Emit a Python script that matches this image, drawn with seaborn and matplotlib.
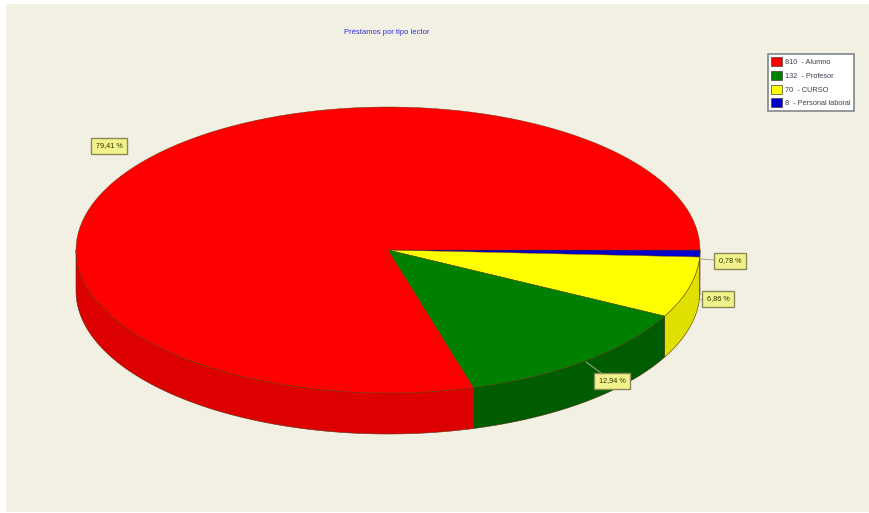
"""Pie chart of loans by reader type, drawn as a tilted disc."""

from __future__ import annotations

import matplotlib.pyplot as plt
from matplotlib.patches import Polygon, Rectangle
import numpy as np
import seaborn as sns

TITLE = "Préstamos por tipo lector"
READER_TYPES = ["Alumno", "Profesor", "CURSO", "Personal laboral"]
LOANS = [810, 132, 70, 8]
PERCENT_LABELS = ["79,41 %", "12,94 %", "6,86 %", "0,78 %"]
TOP_COLORS = ["#ff0000", "#008000", "#ffff00", "#0000c8"]
WALL_COLORS = ["#dc0000", "#005c00", "#e0e000", "#0000a0"]

BACKGROUND = "#f2efe3"
LABEL_FILL = "#f2f28c"
WIDTH, HEIGHT = 870, 513
CENTER_X, CENTER_Y = 388, 250
RADIUS_X, RADIUS_Y = 312, 143
DEPTH = 41
# label box centres, same order as READER_TYPES
LABEL_CENTERS = [(109, 146), (612, 381), (718, 299), (730, 261)]
LEADER_ENDS = [(109, 146), (586, 362), (697, 299), (700, 259)]


def ellipse_points(start: float, stop: float, shift: float = 0) -> np.ndarray:
    """Return pixel points along the rim, angles running clockwise from east."""
    angles = np.radians(np.linspace(start, stop, 120))
    xs = CENTER_X + RADIUS_X * np.cos(angles)
    ys = CENTER_Y + RADIUS_Y * np.sin(angles) + shift
    return np.column_stack([xs, ys])


def draw_pie(ax: plt.Axes) -> None:
    """Draw the wall and the top of every slice, smallest angle first."""
    shares = np.array(LOANS[::-1]) / sum(LOANS)
    stops = np.cumsum(shares) * 360
    starts = stops - shares * 360
    tops = TOP_COLORS[::-1]
    walls = WALL_COLORS[::-1]

    for start, stop, wall in zip(starts, stops, walls):
        low, high = start, min(stop, 180)
        if low >= 180:
            continue
        top_rim = ellipse_points(low, high)
        bottom_rim = ellipse_points(low, high, DEPTH)[::-1]
        ax.add_patch(Polygon(np.vstack([top_rim, bottom_rim]), facecolor=wall,
                             edgecolor="#5a3410", linewidth=0.4, joinstyle="round"))

    for start, stop, top in zip(starts, stops, tops):
        rim = ellipse_points(start, stop)
        points = np.vstack([[CENTER_X, CENTER_Y], rim])
        ax.add_patch(Polygon(points, facecolor=top, edgecolor="#5a3410",
                             linewidth=0.3, joinstyle="round"))


def draw_labels(ax: plt.Axes) -> None:
    """Draw the boxed percent labels and their short leader lines."""
    for text, center, end in zip(PERCENT_LABELS, LABEL_CENTERS, LEADER_ENDS):
        ax.plot([center[0], end[0]], [center[1], end[1]], color="#a0b080",
                linewidth=0.7, zorder=3)
        ax.text(center[0], center[1], text, ha="center", va="center", fontsize=5.2,
                color="#303000", zorder=4,
                bbox={"boxstyle": "square,pad=0.6", "facecolor": LABEL_FILL,
                      "edgecolor": "#8a8a58", "linewidth": 1.0})


def draw_legend(ax: plt.Axes) -> None:
    """Draw the legend box with its counts."""
    handles = [Rectangle((0, 0), 1, 1, facecolor=color, edgecolor="#404040", linewidth=0.5)
               for color in TOP_COLORS]
    labels = [f"{count}  - {name}" for count, name in zip(LOANS, READER_TYPES)]
    legend = ax.legend(handles, labels, loc="upper left",
                       bbox_to_anchor=(768 / WIDTH, 1 - 54 / HEIGHT),
                       bbox_transform=ax.figure.transFigure, fontsize=5.35,
                       frameon=True, fancybox=False, framealpha=1, facecolor="white",
                       edgecolor="#80868c", handlelength=1.45, handleheight=1.5,
                       handletextpad=0.4, labelspacing=0.62, borderpad=0.45,
                       borderaxespad=0)
    legend.get_frame().set_linewidth(1.2)
    for text in legend.get_texts():
        text.set_color("#404050")


def main() -> None:
    sns.set_theme(style="white", font="Liberation Sans")
    fig = plt.figure(figsize=(WIDTH / 100, HEIGHT / 100), dpi=100, facecolor="white")
    ax = fig.add_axes([0, 0, 1, 1])
    ax.set_xlim(0, WIDTH)
    ax.set_ylim(HEIGHT, 0)
    ax.axis("off")
    ax.add_patch(Rectangle((6, 4), WIDTH - 7, HEIGHT - 5, facecolor=BACKGROUND, edgecolor="none"))

    draw_pie(ax)
    draw_labels(ax)
    ax.text(387, 32, TITLE, ha="center", va="center", fontsize=5.5, color="#3030e0")
    draw_legend(ax)

    fig.savefig("out.png", dpi=100)
    plt.close(fig)


if __name__ == "__main__":
    main()
